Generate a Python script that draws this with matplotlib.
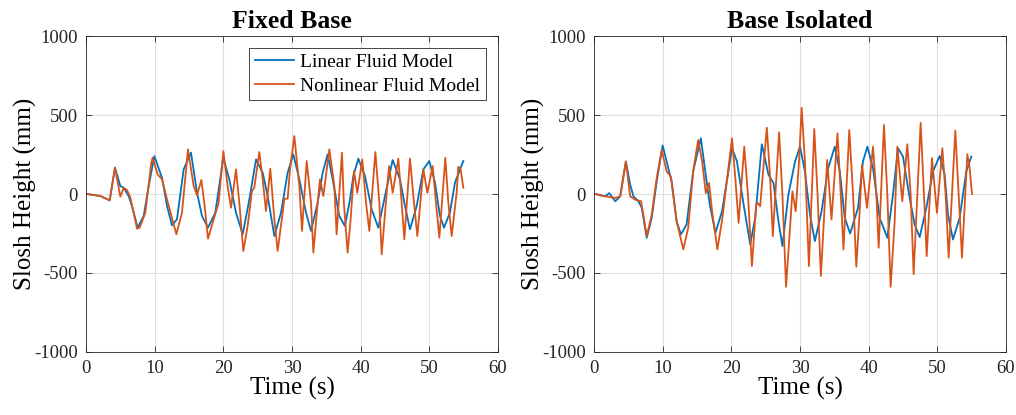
import numpy as np
import matplotlib
matplotlib.use("Agg")
import matplotlib.pyplot as plt

plt.rcParams['font.family'] = ['Liberation Serif', 'DejaVu Serif']
plt.rcParams['axes.unicode_minus'] = False

# fixed base - linear fluid model (time s, slosh height mm)
fb_lin_t = [0, 0.15, 2.1, 3.45, 4.22, 5.0, 5.49, 6.21, 6.7, 7.52, 8.4, 9.13,
            9.95, 11.07, 11.8, 12.52, 13.25, 14.22, 15.29, 16.17, 16.89, 17.77,
            18.83, 20.0, 20.87, 21.84, 22.82, 23.79, 24.76, 25.73, 26.46, 27.43,
            28.4, 29.37, 30.19, 31.07, 32.04, 32.77, 33.74, 34.47, 35.19, 35.92,
            36.89, 37.7, 38.45, 38.93, 39.66, 40.63, 41.6, 42.57, 43.54, 44.66,
            45.73, 46.46, 47.18, 48.16, 49.13, 50.0, 50.83, 51.55, 52.14, 53.0,
            53.74, 54.95]
fb_lin_y = [0, 0, -13, -40, 167, 50, 40, -13, -76, -213, -139, 50,
            240, 103, -76, -198, -160, 156, 262, 8, -139, -213,
            -118, 230, 93, -118, -255, -34, 219, 135, -13, -266,
            -118, 135, 251, 93, -118, -234, -55, 135, 251, 93,
            -139, -203, -34, 114, 224, 114, -97, -213, -13, 215,
            93, -76, -224, -76, 156, 209, 72, -139, -213, -118,
            72, 209]

# fixed base - nonlinear fluid model
fb_non_t = [0, 0.15, 2.1, 3.45, 4.22, 5.0, 5.49, 5.97, 6.46, 7.43, 7.82, 8.64,
            9.51, 9.71, 10.44, 11.07, 11.8, 13.16, 13.98, 14.85, 15.68, 16.17,
            16.8, 17.28, 17.77, 18.59, 19.3, 20.0, 20.63, 21.12, 21.84, 22.33,
            22.91, 23.54, 24.17, 24.51, 25.24, 25.73, 26.21, 26.84, 27.43, 27.91,
            28.64, 28.88, 29.37, 29.71, 30.34, 31.07, 31.46, 32.14, 32.77, 33.11,
            33.74, 34.08, 34.56, 35.44, 36.17, 36.5, 37.28, 37.55, 38.1, 38.54,
            39.03, 39.51, 40.24, 40.78, 41.26, 42.14, 42.72, 43.06, 43.79, 44.13,
            44.66, 45.49, 45.97, 46.36, 47.18, 47.77, 48.25, 49.13, 49.71, 50.49,
            50.97, 51.46, 52.33, 52.77, 53.25, 53.98, 54.22, 54.56, 54.95]
fb_non_y = [0, 0, -13, -40, 167, -17, 40, 25, -23, -219, -213, -118,
            198, 230, 124, 93, -34, -255, -118, 283, 50, -8,
            89, -76, -283, -160, -60, 272, 50, -87, 156, -55,
            -361, -203, 19, 40, 266, 93, -108, 160, -160, -361,
            -118, -30, -30, 156, 367, 50, -234, 209, -55, -371,
            -55, 93, -13, 283, 50, -255, 262, -55, -371, -160,
            146, 8, 219, -55, -234, 266, -55, -382, 8, 177,
            8, 224, -55, -287, 224, -55, -266, 156, 8, 177,
            -55, -276, 230, -55, -266, 8, 173, 156, 40]

# base isolated - linear fluid model
bi_lin_t = [0, 0.19, 1.64, 2.22, 3.09, 3.82, 4.64, 5.27, 5.75, 6.47, 6.96, 7.68,
            8.41, 9.13, 10.0, 10.58, 11.3, 12.03, 12.66, 13.48, 14.44, 15.56,
            16.14, 16.86, 17.68, 18.65, 20.1, 20.82, 21.79, 22.75, 23.48, 24.44,
            25.41, 26.14, 26.86, 27.44, 28.31, 29.28, 30.0, 30.72, 31.45, 32.17,
            33.14, 34.11, 35.07, 35.8, 36.52, 37.3, 38.45, 39.17, 39.81, 40.63,
            41.6, 42.72, 43.54, 44.27, 45.0, 45.97, 46.7, 47.43, 48.4, 49.37,
            50.34, 51.07, 51.55, 52.28, 53.25, 54.22, 54.95]
bi_lin_y = [0, 0, -15, 6, -46, -15, 206, 59, -15, -46, -88, -277,
            -151, 80, 307, 206, 80, -172, -256, -193, 143, 353,
            164, -67, -246, -109, 290, 206, -67, -319, -151, 315,
            122, 69, -172, -330, -4, 206, 300, 143, -130, -298,
            -109, 164, 300, 143, -151, -250, -88, 206, 300, 164,
            -151, -277, -4, 290, 237, -25, -193, -273, -88, 143,
            241, 122, -130, -288, -151, 143, 237]

# base isolated - nonlinear fluid model
bi_non_t = [0, 0.19, 1.64, 3.09, 3.82, 4.64, 5.27, 5.99, 6.86, 7.68, 8.41, 9.13,
            9.86, 10.58, 11.21, 12.03, 13.0, 13.72, 14.44, 15.17, 15.75, 16.28,
            16.76, 17.2, 17.97, 18.7, 20.1, 20.58, 21.06, 21.88, 22.42, 23.0,
            23.62, 23.86, 24.2, 24.54, 25.17, 25.65, 26.04, 26.96, 27.44, 27.97,
            28.55, 28.89, 29.37, 29.86, 30.24, 30.72, 31.3, 32.08, 32.56, 33.04,
            33.96, 34.59, 35.46, 35.94, 36.33, 37.18, 37.73, 38.2, 38.69, 39.03,
            39.76, 40.63, 41.12, 41.46, 42.23, 42.72, 43.2, 43.79, 44.17, 44.9,
            45.63, 46.12, 46.55, 47.09, 47.57, 48.06, 48.45, 49.22, 49.95, 50.73,
            51.21, 51.65, 52.62, 53.11, 53.59, 54.37, 54.71, 55.05]
bi_non_y = [0, 0, -15, -25, -15, 206, -15, -36, -46, -267, -130, 101,
            279, 143, 111, -172, -351, -214, 143, 342, 206, 6,
            69, -109, -351, -151, 353, 101, -183, 300, -4, -456,
            -67, -57, -78, 101, 420, 101, -267, 391, -4, -588,
            -214, 17, -109, 206, 546, 206, -456, 412, -4, -519,
            216, -162, 384, -4, -351, 405, -4, -460, -109, 185,
            -88, 300, -4, -340, 437, -4, -588, -172, 300, -46,
            315, -4, -508, -4, 451, -4, -393, 227, -120, 290,
            -4, -403, 401, -4, -403, 252, 164, 0]

titles = ["Fixed Base", "Base Isolated"]
series = [(fb_lin_t, fb_lin_y, fb_non_t, fb_non_y),
          (bi_lin_t, bi_lin_y, bi_non_t, bi_non_y)]

fig = plt.figure(figsize=(10.16, 4.15), dpi=100)
lefts = [86 / 1016, 594 / 1016]

for i in range(2):
    ax = fig.add_axes([lefts[i], 0.152, 0.4055, 0.761])
    lt, ly, nt, ny = series[i]
    ax.plot(lt, ly, color='#0072BD', lw=1.3, label='Linear Fluid Model')
    ax.plot(nt, ny, color='#D95319', lw=1.3, label='Nonlinear Fluid Model')
    ax.set_xlim(0, 60)
    ax.set_ylim(-1000, 1000)
    ax.set_xticks(np.arange(0, 61, 10))
    ax.set_yticks(np.arange(-1000, 1001, 500))
    ax.grid(True, color='#dfdfdf', lw=0.8)
    ax.set_axisbelow(True)
    ax.tick_params(direction='in', top=True, right=True, labelsize=13.5,
                   colors='#262626', length=4, width=0.6, pad=6)
    for s in ax.spines.values():
        s.set_color('#262626')
        s.set_linewidth(0.6)
    ax.set_title(titles[i], fontsize=18.5, fontweight='bold', pad=6)
    ax.set_xlabel('Time (s)', fontsize=18, labelpad=0)
    ax.set_ylabel('Slosh Height (mm)', fontsize=18, labelpad=-2)
    if i == 0:
        leg = ax.legend(loc='upper right', fontsize=14, fancybox=False,
                        framealpha=1, edgecolor='#262626', borderpad=0.3,
                        handlelength=2.0, handletextpad=0.35,
                        borderaxespad=0.6, labelspacing=0.3)
        leg.get_frame().set_linewidth(0.6)

fig.savefig('out.png', dpi=100)
